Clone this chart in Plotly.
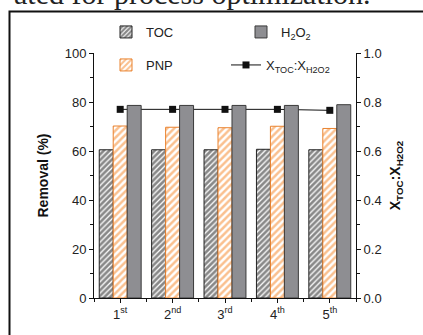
import plotly.graph_objects as go

runs = ["1<sup>st</sup>", "2<sup>nd</sup>", "3<sup>rd</sup>", "4<sup>th</sup>", "5<sup>th</sup>"]
toc = [60.5, 60.5, 60.5, 60.7, 60.5]
pnp = [70.2, 69.7, 69.5, 70.1, 69.2]
h2o2 = [78.6, 78.6, 78.6, 78.6, 78.9]
ratio = [0.77, 0.77, 0.77, 0.77, 0.766]

x = list(range(len(runs)))

W, H = 423, 335
L, R, T, B = 94, 356, 53, 298  # plot area in px


def px(xp):
    return (xp - L) / (R - L)


def py(yp):
    return (B - yp) / (B - T)


font = "Liberation Sans, Arial, sans-serif"

fig = go.Figure()

# ratio line on primary y (drawn beneath bars)
fig.add_trace(go.Scatter(
    x=x, y=ratio, mode="lines+markers", name="X<sub>TOC</sub>:X<sub>H2O2</sub>",
    line=dict(color="#111", width=1),
    marker=dict(symbol="square", size=7, color="#111"),
    yaxis="y", legend="legend4", hoverinfo="skip"))

fig.add_trace(go.Bar(
    x=x, y=toc, name="TOC", yaxis="y2", legend="legend",
    marker=dict(color="white", line=dict(color="#222", width=1),
                pattern=dict(shape="/", fgcolor="#111", bgcolor="white", size=4, solidity=0.68)),
    hoverinfo="skip"))
fig.add_trace(go.Bar(
    x=x, y=pnp, name="PNP", yaxis="y2", legend="legend3",
    marker=dict(color="white", line=dict(color="#e9822e", width=1),
                pattern=dict(shape="/", fgcolor="#f5821f", bgcolor="white", size=5, solidity=0.5)),
    hoverinfo="skip"))
fig.add_trace(go.Bar(
    x=x, y=h2o2, name="H<sub>2</sub>O<sub>2</sub>", yaxis="y2", legend="legend2",
    marker=dict(color="#8e8e92", line=dict(color="#3a3a3a", width=1)),
    hoverinfo="skip"))

axis_common = dict(showgrid=False, zeroline=False, linecolor="#111", linewidth=1,
                   ticks="outside", tickcolor="#111", ticklen=4, automargin=False,
                   tickfont=dict(family=font, size=13, color="#222"))


def leg(xpx, ypx):
    return dict(orientation="h", x=px(xpx), y=py(ypx), xanchor="left", yanchor="middle",
                bgcolor="rgba(0,0,0,0)", font=dict(family=font, size=13, color="#222"))


fig.update_layout(
    width=W, height=H,
    showlegend=True,
    margin=dict(l=L, r=W - R, t=T, b=H - B, autoexpand=False),
    paper_bgcolor="white", plot_bgcolor="white",
    barmode="group", bargap=0.2, bargroupgap=0,
    font=dict(family=font, size=13, color="#222"),
    xaxis=dict(range=[-0.5, len(runs) - 0.5], tickvals=x, ticktext=runs,
               minor=dict(tick0=0.5, dtick=1, ticklen=3, ticks="outside", tickcolor="#111"),
               **axis_common),
    yaxis=dict(side="right", range=[0, 1], tickvals=[0, 0.2, 0.4, 0.6, 0.8, 1.0],
               ticktext=["0.0", "0.2", "0.4", "0.6", "0.8", "1.0"],
               minor=dict(dtick=0.1, ticklen=3, ticks="outside", tickcolor="#111"),
               title=dict(text="<b>X<sub>TOC</sub>:X<sub>H2O2</sub></b>", standoff=9,
                          font=dict(family=font, size=14, color="#111")),
               **axis_common),
    yaxis2=dict(side="left", overlaying="y", range=[0, 100], tickvals=[0, 20, 40, 60, 80, 100],
                minor=dict(dtick=10, ticklen=3, ticks="outside", tickcolor="#111"),
                title=dict(text="<b>Removal (%)</b>", standoff=12,
                           font=dict(family=font, size=14, color="#111")),
                **axis_common),
    legend=leg(106, 32),
    legend2=leg(241, 32),
    legend3=leg(106, 65),
    legend4=leg(226, 65),
    shapes=[dict(type="rect", xref="paper", yref="paper",
                 x0=px(9.5), x1=px(440), y0=py(360), y1=py(11.5),
                 line=dict(color="#111", width=2), fillcolor="rgba(0,0,0,0)", layer="above")],
    annotations=[dict(text="ated for process optimization.", xref="paper", yref="paper",
                      x=px(12), y=py(12), xanchor="left", yanchor="bottom", showarrow=False,
                      font=dict(family="Liberation Serif, Times New Roman, serif", size=30, color="#222"))],
)

fig.write_html("out.html", config={"displayModeBar": False},
               post_script="document.body.style.margin='0';document.body.style.overflow='hidden';")
